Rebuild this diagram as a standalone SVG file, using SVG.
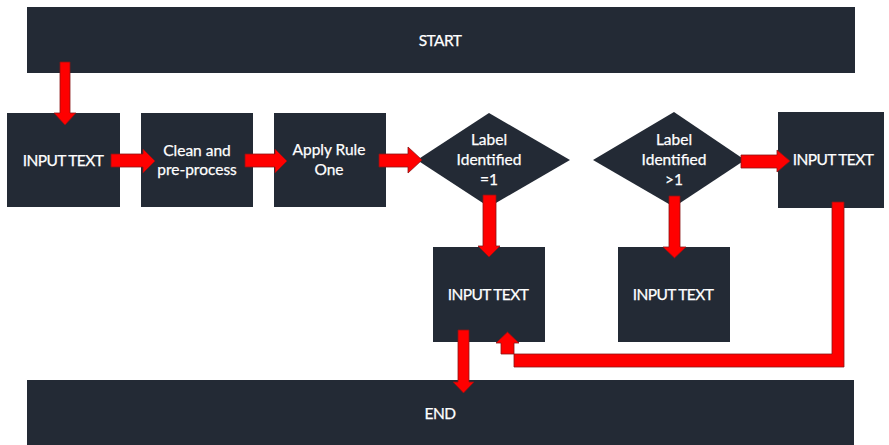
<svg xmlns="http://www.w3.org/2000/svg" width="889" height="445" viewBox="0 0 889 445">
  <style>
    .node { fill: #232a35; }
    .label { fill: #ffffff; font-family: Lato, "Open Sans", "Liberation Sans", sans-serif; font-size: 15.5px; text-anchor: middle; stroke: #ffffff; stroke-width: 0.25; }
    .caps { letter-spacing: -0.6px; }
    .arrow { fill: #ff0000; stroke: #8a1414; stroke-width: 0.8; stroke-linejoin: miter; }
  </style>
  <rect width="889" height="445" fill="#ffffff"/>

  <g id="start">
    <rect class="node" x="27" y="7" width="828" height="66"/>
    <text class="label caps" x="440" y="46">START</text>
  </g>

  <g id="input1">
    <rect class="node" x="7" y="113" width="113" height="94"/>
    <text class="label caps" x="63" y="166">INPUT TEXT</text>
  </g>

  <g id="clean">
    <rect class="node" x="141" y="113" width="112" height="94"/>
    <text class="label" x="197" y="156">Clean and</text>
    <text class="label" x="197" y="175">pre-process</text>
  </g>

  <g id="rule-one">
    <rect class="node" x="274" y="113" width="112" height="94"/>
    <text class="label" x="329" y="155">Apply Rule</text>
    <text class="label" x="329" y="175">One</text>
  </g>

  <g id="decision-eq1">
    <polygon class="node" points="489,113 570,160 489,207 417,160"/>
    <text class="label" x="489" y="145">Label</text>
    <text class="label" x="489" y="165">Identified</text>
    <text class="label" x="489" y="185">=1</text>
  </g>

  <g id="decision-gt1">
    <polygon class="node" points="674,112 745,160 674,207 593,160"/>
    <text class="label" x="674" y="145">Label</text>
    <text class="label" x="674" y="165">Identified</text>
    <text class="label" x="674" y="185">&gt;1</text>
  </g>

  <g id="input-right">
    <rect class="node" x="778" y="112" width="106" height="96"/>
    <text class="label caps" x="833" y="165">INPUT TEXT</text>
  </g>

  <g id="input-eq1">
    <rect class="node" x="433" y="247" width="112" height="95"/>
    <text class="label caps" x="488" y="300">INPUT TEXT</text>
  </g>

  <g id="input-gt1">
    <rect class="node" x="618" y="247" width="112" height="95"/>
    <text class="label caps" x="673" y="300">INPUT TEXT</text>
  </g>

  <g id="end">
    <rect class="node" x="27" y="380" width="827" height="65"/>
    <text class="label caps" x="440" y="419">END</text>
  </g>

  <g id="connectors">
    <polygon class="arrow" points="60,62 70,62 70,113 76,113 65,125 54,113 60,113"/>
    <polygon class="arrow" points="111,154 143,154 143,149 155,161 143,173 143,167 111,167"/>
    <polygon class="arrow" points="245,154 275,154 275,149 287,161 275,173 275,167 245,167"/>
    <polygon class="arrow" points="379,154 408,154 408,147 422,160 408,173 408,167 379,167"/>
    <polygon class="arrow" points="483,195 496,195 496,246 500,246 489,257 478,246 483,246"/>
    <polygon class="arrow" points="741,155 777,155 777,150 790,161 777,172 777,168 741,168"/>
    <polygon class="arrow" points="669,196 680,196 680,247 686,247 674.5,258 663,247 669,247"/>
    <polygon class="arrow" points="458,330 469,330 469,382 474,382 463.5,393 453,382 458,382"/>
    <polygon class="arrow" points="832,202 844,202 844,367 514,367 514,343 519,343 507.5,332 496,343 501,343 501,354 832,354"/>
  </g>
</svg>
